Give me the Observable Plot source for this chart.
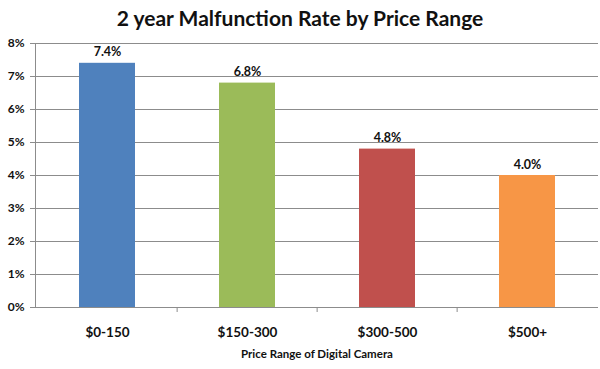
<!DOCTYPE html>
<html>
<head>
<meta charset="utf-8">
<script src="https://cdn.jsdelivr.net/npm/d3@7"></script>
<script src="https://cdn.jsdelivr.net/npm/@observablehq/plot@0.6"></script>
<style>
  html, body { margin: 0; padding: 0; background: #fff; }
  #title { font-family: Lato, "Open Sans", sans-serif; font-weight: bold; font-size: 21px; color: #111;
           text-align: center; height: 36px; line-height: 36px; width: 600px; }
  svg { display: block; }
</style>
</head>
<body>
<div id="title">2 year Malfunction Rate by Price Range</div>
<div id="chart"></div>
<script>
const categories = ["$0-150", "$150-300", "$300-500", "$500+"];
const rates = [0.074, 0.068, 0.048, 0.040];
const colors = ["#4F81BD", "#9BBB59", "#C0504D", "#F79646"];
const yTicks = [0, 0.01, 0.02, 0.03, 0.04, 0.05, 0.06, 0.07, 0.08];

const data = categories.map((c, i) => ({category: c, rate: rates[i], color: colors[i]}));
const font = "Lato, 'Open Sans', sans-serif";
const W = 600, ML = 35, MR = 2;
const step = (W - ML - MR) / categories.length;

const chart = Plot.plot({
  width: W,
  height: 333,
  marginLeft: ML,
  marginRight: MR,
  marginTop: 7,
  marginBottom: 62,
  style: {fontFamily: font, fontWeight: "bold", color: "#111", background: "#fff"},
  x: {domain: categories, paddingInner: 0.6, paddingOuter: 0.3, label: null},
  y: {domain: [0, 0.08], label: null},
  marks: [
    Plot.gridY(yTicks, {stroke: "#8c8c8c", strokeOpacity: 1, strokeWidth: 1}),
    Plot.axisY(yTicks, {tickFormat: d => Math.round(d * 100) + "%", tickSize: 5, stroke: "#8c8c8c",
      fontSize: 12, fontWeight: "bold", tickPadding: 6, label: null}),
    Plot.barY(data, {x: "category", y: "rate", fill: "color"}),
    Plot.frame({anchor: "left", stroke: "#8c8c8c"}),
    Plot.ruleY([0], {stroke: "#8c8c8c"}),
    Plot.ruleX(categories.slice(1), {x: d => d, y1: 0, y2: 0, insetBottom: -5, dx: -step / 2, stroke: "#8c8c8c"}),
    Plot.text(data, {x: "category", y: "rate", text: d => (d.rate * 100).toFixed(1) + "%", dy: -11,
      fontSize: 12.5, fontWeight: "bold", fill: "#111"}),
    Plot.axisX({tickSize: 0, tickPadding: 20, fontSize: 13.5, fontWeight: "bold", label: null}),
    Plot.text(["Price Range of Digital Camera"], {frameAnchor: "bottom", dy: 50, fontSize: 11.5,
      fontWeight: "bold", fill: "#111"})
  ]
});
document.getElementById("chart").appendChild(chart);
</script>
</body>
</html>
